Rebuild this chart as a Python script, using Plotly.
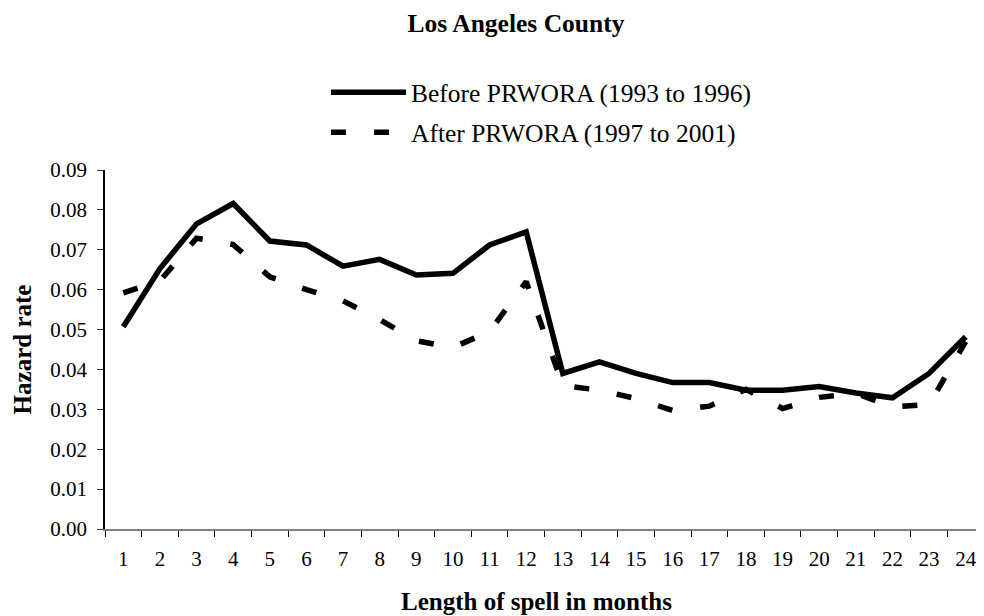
import plotly.graph_objects as go

months = [str(i) for i in range(1, 25)]
before = [0.0507, 0.0653, 0.0765, 0.0816, 0.0722, 0.0712, 0.0659, 0.0676, 0.0637, 0.0641,
          0.0712, 0.0745, 0.0390, 0.0419, 0.0390, 0.0367, 0.0367, 0.0348, 0.0348, 0.0357,
          0.0341, 0.0329, 0.0390, 0.0482]
after = [0.0592, 0.0622, 0.0729, 0.0713, 0.0632, 0.0600, 0.0572, 0.0525, 0.0472, 0.0455,
         0.0495, 0.0620, 0.0360, 0.0348, 0.0327, 0.0297, 0.0308, 0.0350, 0.0302, 0.0330,
         0.0340, 0.0306, 0.0312, 0.0470]
yticks = [0.00, 0.01, 0.02, 0.03, 0.04, 0.05, 0.06, 0.07, 0.08, 0.09]

FONT = "Liberation Serif, Times New Roman, serif"

fig = go.Figure()
fig.add_trace(go.Scatter(x=months, y=before, mode="lines", name="Before PRWORA (1993 to 1996)",
                         legendgroup="a", line=dict(color="black", width=5.5)))
fig.add_trace(go.Scatter(x=months, y=after, mode="lines", name="After PRWORA (1997 to 2001)",
                         legendgroup="b", line=dict(color="black", width=5.5, dash="15px,28px")))

# page body has an 8px margin, so the figure is 976x608 and offset by 8px
fig.update_layout(
    width=976, height=608,
    paper_bgcolor="white", plot_bgcolor="white",
    font=dict(family=FONT, color="black", size=21),
    margin=dict(l=97, r=0, t=162, b=87),
    title=dict(text="<b>Los Angeles County</b>", x=0.5205, xanchor="center", y=0.976, yanchor="middle",
               font=dict(size=25.5, family=FONT)),
    showlegend=True,
    legend=dict(x=0.2514, y=1.281, xanchor="left", yanchor="top", font=dict(size=25.5, family=FONT),
                itemwidth=75, bgcolor="rgba(0,0,0,0)", tracegroupgap=4),
    xaxis=dict(type="category", tickson="boundaries", range=[-0.5, 23.5],
               ticks="outside", ticklen=6, tickcolor="black", ticklabelstandoff=10,
               showline=True, linecolor="#808080", linewidth=2, showgrid=False, zeroline=False,
               tickfont=dict(size=21, family=FONT)),
    yaxis=dict(range=[0, 0.09], tickvals=yticks, tickformat=".2f", ticks="outside", ticklen=6,
               tickcolor="#404040", showline=True, linecolor="black", linewidth=1.5, showgrid=False,
               zeroline=False, tickfont=dict(size=21, family=FONT), ticklabelstandoff=6,
               title=dict(text="<b>Hazard rate</b>", font=dict(size=25, family=FONT), standoff=12)),
    annotations=[dict(text="<b>Length of spell in months</b>", xref="paper", yref="paper",
                      x=0.491, y=0, xanchor="center", yanchor="middle", yshift=-72,
                      showarrow=False, font=dict(size=25, family=FONT))],
)

fig.write_html("out.html")
